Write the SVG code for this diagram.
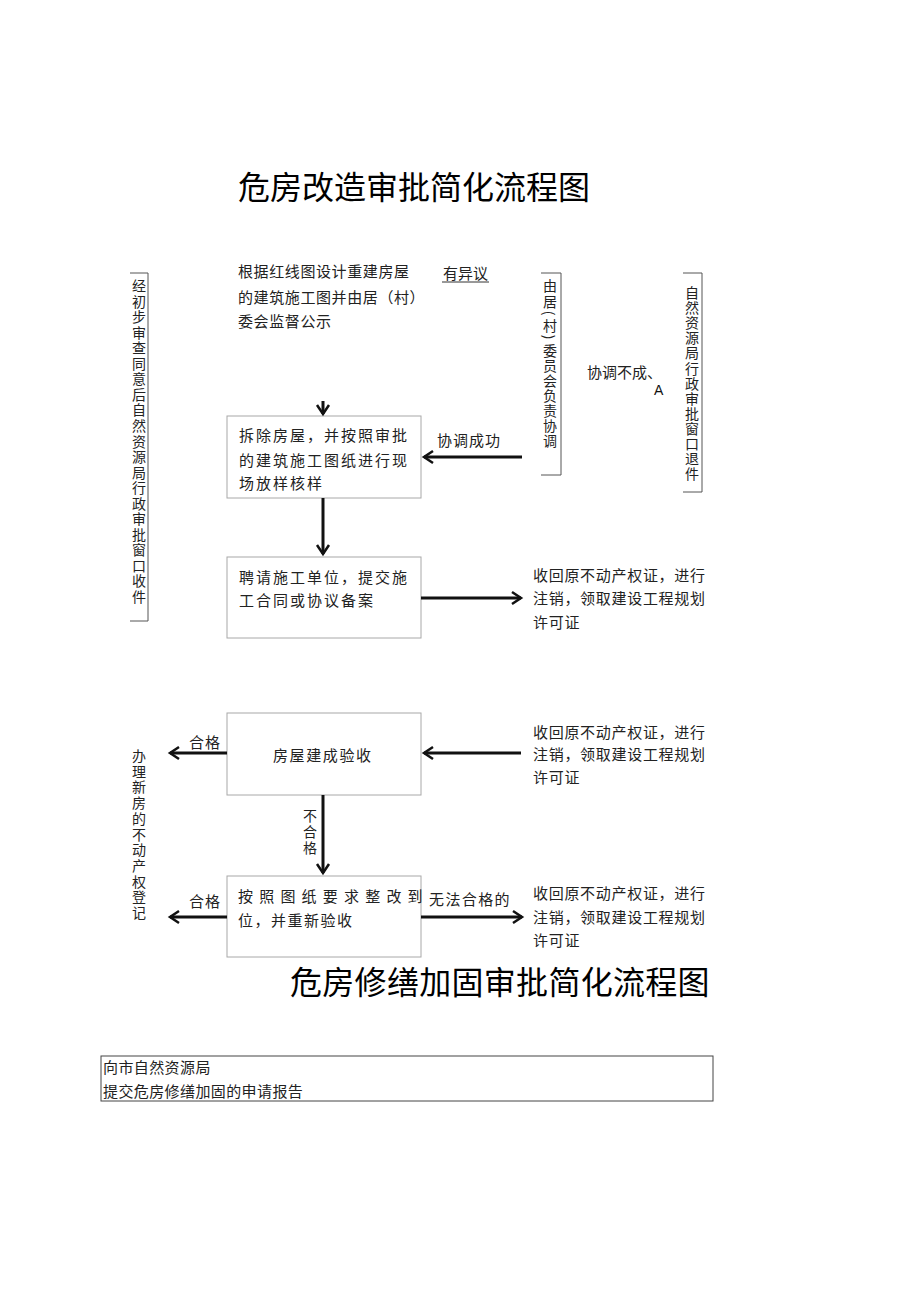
<svg xmlns="http://www.w3.org/2000/svg" width="920" height="1301" viewBox="0 0 920 1301">
<style>
.t{font-family:"Noto Sans CJK SC","Liberation Sans",sans-serif;font-size:15px;fill:#222}
.title{font-family:"Noto Sans CJK SC","Liberation Sans",sans-serif;font-size:32px;fill:#000}
.v{font-family:"Noto Sans CJK SC","Liberation Sans",sans-serif;font-size:14px;fill:#222;text-anchor:middle;dominant-baseline:central}
.box{fill:none;stroke:#a8a8a8;stroke-width:1}
.br{fill:none;stroke:#555;stroke-width:1}
.c{stroke:#111;stroke-width:3;fill:none}
</style>
<defs>
<marker id="ah" markerUnits="userSpaceOnUse" markerWidth="16" markerHeight="16" viewBox="0 0 16 16" refX="12" refY="8" orient="auto">
<path d="M3,2 L12,8 L3,14" fill="none" stroke="#111" stroke-width="2.5"/>
</marker>
</defs>
<rect width="920" height="1301" fill="#fff"/>

<g id="title1"><text class="title" x="238" y="199">危房改造审批简化流程图</text></g>

<g id="publicity">
<text class="t" x="238" y="277" letter-spacing="0.6">根据红线图设计重建房屋</text>
<text class="t" x="238" y="303" letter-spacing="0.6">的建筑施工图并由居（村）</text>
<text class="t" x="238" y="327" letter-spacing="0.6">委会监督公示</text>
</g>

<g id="objection">
<text class="t" x="443" y="279">有异议</text>
<line x1="442" y1="282" x2="489" y2="282" stroke="#333" stroke-width="1"/>
</g>

<g id="left-bracket1">
<path class="br" d="M130,273 H148 V621 H130"/>
<text class="v"><tspan x="139" y="285">经</tspan><tspan x="139" dy="15.55">初</tspan><tspan x="139" dy="15.55">步</tspan><tspan x="139" dy="15.55">审</tspan><tspan x="139" dy="15.55">查</tspan><tspan x="139" dy="15.55">同</tspan><tspan x="139" dy="15.55">意</tspan><tspan x="139" dy="15.55">后</tspan><tspan x="139" dy="15.55">自</tspan><tspan x="139" dy="15.55">然</tspan><tspan x="139" dy="15.55">资</tspan><tspan x="139" dy="15.55">源</tspan><tspan x="139" dy="15.55">局</tspan><tspan x="139" dy="15.55">行</tspan><tspan x="139" dy="15.55">政</tspan><tspan x="139" dy="15.55">审</tspan><tspan x="139" dy="15.55">批</tspan><tspan x="139" dy="15.55">窗</tspan><tspan x="139" dy="15.55">口</tspan><tspan x="139" dy="15.55">收</tspan><tspan x="139" dy="15.55">件</tspan></text>
</g>

<g id="mid-bracket">
<path class="br" d="M541,273 H561 V475 H541"/>
<text class="v"><tspan x="550" y="285">由</tspan><tspan x="550" y="301">居</tspan></text>
<text class="v" transform="rotate(90 550 313)" x="550" y="313">(</text>
<text class="v" x="550" y="325">村</text>
<text class="v" transform="rotate(90 550 337)" x="550" y="337">)</text>
<text class="v"><tspan x="550" y="350">委</tspan><tspan x="550" dy="15">员</tspan><tspan x="550" dy="15">会</tspan><tspan x="550" dy="15">负</tspan><tspan x="550" dy="15">责</tspan><tspan x="550" dy="15">协</tspan><tspan x="550" dy="15">调</tspan></text>
</g>

<g id="right-bracket">
<path class="br" d="M683,273 H702 V492 H683"/>
<text class="v"><tspan x="692" y="292">自</tspan><tspan x="692" dy="15.1">然</tspan><tspan x="692" dy="15.1">资</tspan><tspan x="692" dy="15.1">源</tspan><tspan x="692" dy="15.1">局</tspan><tspan x="692" dy="15.1">行</tspan><tspan x="692" dy="15.1">政</tspan><tspan x="692" dy="15.1">审</tspan><tspan x="692" dy="15.1">批</tspan><tspan x="692" dy="15.1">窗</tspan><tspan x="692" dy="15.1">口</tspan><tspan x="692" dy="15.1">退</tspan><tspan x="692" dy="15.1">件</tspan></text>
</g>

<g id="fail-coord">
<text class="t" x="587" y="378">协调不成、</text>
<text x="654" y="395" font-family="Liberation Sans,sans-serif" font-size="14" fill="#111">A</text>
</g>

<g id="box1">
<rect class="box" x="227" y="416" width="194" height="82"/>
<text class="t" x="239" y="441" letter-spacing="2">拆除房屋，并按照审批</text>
<text class="t" x="239" y="466" letter-spacing="2">的建筑施工图纸进行现</text>
<text class="t" x="239" y="489" letter-spacing="2">场放样核样</text>
</g>

<g id="box2">
<rect class="box" x="227" y="557" width="194" height="81"/>
<text class="t" x="239" y="583" letter-spacing="2">聘请施工单位，提交施</text>
<text class="t" x="239" y="606" letter-spacing="2">工合同或协议备案</text>
</g>

<g id="note1">
<text class="t" x="533" y="581" letter-spacing="0.7">收回原不动产权证，进行</text>
<text class="t" x="533" y="604" letter-spacing="0.7">注销，领取建设工程规划</text>
<text class="t" x="533" y="628" letter-spacing="0.7">许可证</text>
</g>

<g id="box3">
<rect class="box" x="227" y="713" width="194" height="82"/>
<text class="t" x="273" y="761" letter-spacing="1.6">房屋建成验收</text>
</g>

<g id="note2">
<text class="t" x="533" y="738" letter-spacing="0.7">收回原不动产权证，进行</text>
<text class="t" x="533" y="760" letter-spacing="0.7">注销，领取建设工程规划</text>
<text class="t" x="533" y="783" letter-spacing="0.7">许可证</text>
</g>

<g id="register">
<text class="v"><tspan x="139" y="755">办</tspan><tspan x="139" dy="15.7">理</tspan><tspan x="139" dy="15.7">新</tspan><tspan x="139" dy="15.7">房</tspan><tspan x="139" dy="15.7">的</tspan><tspan x="139" dy="15.7">不</tspan><tspan x="139" dy="15.7">动</tspan><tspan x="139" dy="15.7">产</tspan><tspan x="139" dy="15.7">权</tspan><tspan x="139" dy="15.7">登</tspan><tspan x="139" dy="15.7">记</tspan></text>
</g>

<g id="box4">
<rect class="box" x="227" y="876" width="194" height="81"/>
<text class="t" x="238" y="902" letter-spacing="6.2">按照图纸要求整改到</text>
<text class="t" x="238" y="926" letter-spacing="1.5">位，并重新验收</text>
</g>

<g id="note3">
<text class="t" x="533" y="899" letter-spacing="0.7">收回原不动产权证，进行</text>
<text class="t" x="533" y="923" letter-spacing="0.7">注销，领取建设工程规划</text>
<text class="t" x="533" y="946" letter-spacing="0.7">许可证</text>
</g>

<g id="title2"><text class="title" x="290" y="994" letter-spacing="0.3">危房修缮加固审批简化流程图</text></g>

<g id="repair-box">
<rect x="101" y="1056" width="612" height="45" fill="none" stroke="#444" stroke-width="1"/>
<text class="t" x="103" y="1073" letter-spacing="0.4">向市自然资源局</text>
<text class="t" x="103" y="1097" letter-spacing="0.4">提交危房修缮加固的申请报告</text>
</g>

<g id="connectors">
<line class="c" x1="323" y1="401" x2="323" y2="414" marker-end="url(#ah)"/>
<line class="c" x1="323" y1="498" x2="323" y2="554" marker-end="url(#ah)"/>
<line class="c" x1="522" y1="457" x2="424" y2="457" marker-end="url(#ah)"/>
<text class="t" x="437" y="446" letter-spacing="1">协调成功</text>
<line class="c" x1="421" y1="598" x2="521" y2="598" marker-end="url(#ah)"/>
<line class="c" x1="227" y1="753" x2="170" y2="753" marker-end="url(#ah)"/>
<text class="t" x="189" y="748" letter-spacing="1">合格</text>
<line class="c" x1="521" y1="753" x2="424" y2="753" marker-end="url(#ah)"/>
<line class="c" x1="323" y1="795" x2="323" y2="873" marker-end="url(#ah)"/>
<text class="v"><tspan x="310" y="815">不</tspan><tspan x="310" dy="16">合</tspan><tspan x="310" dy="16">格</tspan></text>
<line class="c" x1="227" y1="917" x2="170" y2="917" marker-end="url(#ah)"/>
<text class="t" x="189" y="907" letter-spacing="1">合格</text>
<line class="c" x1="421" y1="917" x2="522" y2="917" marker-end="url(#ah)"/>
<text class="t" x="429" y="905" letter-spacing="1.4">无法合格的</text>
</g>
</svg>
